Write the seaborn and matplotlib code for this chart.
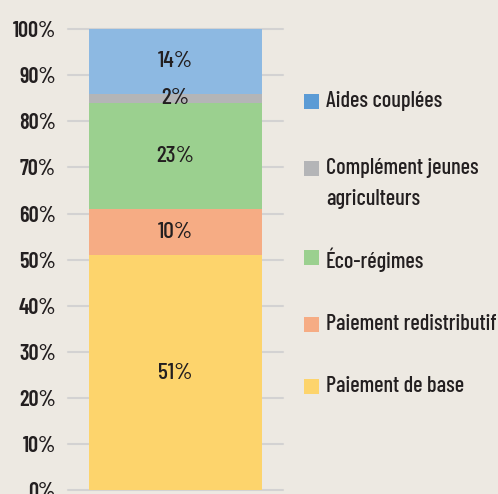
import matplotlib
matplotlib.use("Agg")
import matplotlib.pyplot as plt
import seaborn as sns
from matplotlib.patches import Rectangle

# data (bottom to top of the stack)
categories = ["Paiement de base", "Paiement redistributif", "Éco-régimes",
              "Complément jeunes\nagriculteurs", "Aides couplées"]
values = [51, 10, 23, 2, 14]
bar_colors = ["#FDD46C", "#F6AC84", "#9BD08F", "#B4B5B7", "#8DB9E2"]
legend_colors = ["#FDD46C", "#F6AC84", "#9BD08F", "#B4B5B7", "#5B9BD5"]
yticks = [0, 10, 20, 30, 40, 50, 60, 70, 80, 90, 100]

bg = "#EDE9E2"
ink = "#231F20"

sns.set_style("white")
plt.rcParams['font.family'] = ['Barlow Condensed', 'DejaVu Sans']

fig = plt.figure(figsize=(4.98, 4.94), dpi=100, facecolor=bg)
ax = fig.add_axes([0.137, 0.008, 0.431, 0.933], facecolor=bg)

#stacked bar, one segment at a time
bottom = 0
for cat, val, col in zip(categories, values, bar_colors):
    sns.barplot(x=["total"], y=[val], bottom=bottom, color=col, width=0.81,
                saturation=1, linewidth=0, ax=ax, zorder=3)
    ax.text(0, bottom + val / 2, f"{val}%", ha="center", va="center",
            fontsize=17, fontweight="medium", color=ink, zorder=4)
    bottom += val

ax.set_xlim(-0.5, 0.5)
ax.set_ylim(0, 100)
ax.set_yticks(yticks)
ax.set_yticklabels([f"{t}%" for t in yticks], fontsize=16,
                   fontweight="semibold", color=ink)
ax.set_xticks([])
ax.set_xlabel("")
ax.set_ylabel("")
ax.tick_params(axis="y", length=0, pad=9)
ax.grid(axis="y", color="#D3D2D2", linewidth=1.5, zorder=0)
ax.set_axisbelow(True)
for s in ax.spines.values():
    s.set_visible(False)
for gl in ax.get_ygridlines():
    gl.set_clip_on(False)

#legend drawn by hand so the square sits on the first text line
leg_y = [101, 168, 257, 324, 386]  # pixel rows from top, top entry first
W, H = 498, 494
for cat, col, yp in zip(categories[::-1], legend_colors[::-1], leg_y):
    fy = 1 - yp / H
    fig.add_artist(Rectangle((304 / W, fy - 8 / H), 15 / W, 15 / H,
                             facecolor=col, edgecolor="none",
                             transform=fig.transFigure))
    fig.text(326 / W, fy + 10 / H, cat, ha="left", va="top", fontsize=16,
             fontweight="medium", color=ink, linespacing=1.7)

fig.savefig("out.png", dpi=100, facecolor=bg)
